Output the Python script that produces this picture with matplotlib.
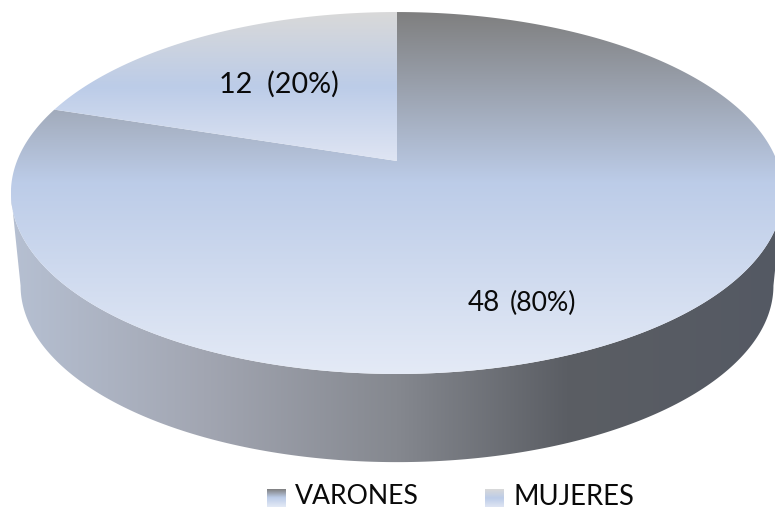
import numpy as np
import matplotlib
matplotlib.use("Agg")
import matplotlib.pyplot as plt
from matplotlib.colors import LinearSegmentedColormap as LSC
from matplotlib.patches import Polygon

# ---- data ----
categories = ["VARONES", "MUJERES"]
values = [48, 12]
percents = ["(80%)", "(20%)"]

# ---- styles ----
top_stops = [
    [(0, "#7f7f7f"), (0.47, "#bccce8"), (1, "#e4eaf6")],
    [(0, "#d9d9d9"), (0.5, "#bccce8"), (1, "#dfe5f3")],
]
side_stops = [(0, "#b6c0d2"), (0.25, "#a2a6b2"), (0.5, "#85888f"),
              (0.72, "#5b5e64"), (1, "#545963")]
legend_sizes = [19.2, 19.8]
plt.rcParams["font.family"] = ["Lato", "DejaVu Sans"]

fig = plt.figure(figsize=(7.75, 5.09), dpi=100, facecolor="white")
ax = fig.add_axes([0, 0, 1, 1])
W, H = 775, 509

# projective view of a tilted disc
K = 0.1768
CX, CY, RX, RY = 397, 161, 380, 175.3
BOT_S, BOT_CY = 0.975, 254.5


def project(u, v, s=1.0, cy=CY):
    w = 1 - K * v
    return np.column_stack([CX + s * RX * u / w, cy + s * RY * v / w])


def grad(stops, extent, path=None, horizontal=False):
    cmap = LSC.from_list("g", stops, N=512)
    g = np.linspace(0, 1, 512)
    arr = g[None, :] if horizontal else g[:, None]
    im = ax.imshow(arr, cmap=cmap, vmin=0, vmax=1, extent=extent,
                   aspect="auto", interpolation="bilinear", origin="upper")
    if path is not None:
        patch = Polygon(path, closed=True, transform=ax.transData,
                        fc="none", ec="none")
        ax.add_patch(patch)
        im.set_clip_path(patch)
    return im


# side wall
t0 = np.arcsin(K)
t = np.linspace(t0, np.pi - t0, 300)
bottom = project(np.cos(t), np.sin(t), BOT_S, BOT_CY)
top = project(np.cos(t[::-1]), np.sin(t[::-1]))
side = np.vstack([bottom, top])
grad(side_stops, (11, 783, 470, 190), side, horizontal=True)

# top face wedges
fr = np.cumsum([0] + values) / sum(values)
for i in range(len(values)):
    th = np.linspace(fr[i], fr[i + 1], 400) * 2 * np.pi
    rim = project(np.sin(th), -np.cos(th))
    poly = np.vstack([[CX, CY], rim])
    y0, y1 = poly[:, 1].min(), poly[:, 1].max()
    x0, x1 = poly[:, 0].min(), poly[:, 0].max()
    grad(top_stops[i], (x0, x1, y1, y0), poly)

# labels
ink = "#0a0a0a"
ax.text(219, 84, f"{values[1]}  {percents[1]}", fontsize=20.7, color=ink,
        ha="left", va="center")
ax.text(468, 303, f"{values[0]}", fontsize=20, color=ink,
        ha="left", va="center")
ax.text(510, 303, percents[0], fontsize=19.2, color=ink,
        ha="left", va="center")

# legend
sw = [(267, 286), (485, 504)]
tx = [295, 513]
for i, c in enumerate(categories):
    grad(top_stops[i], (sw[i][0], sw[i][1], 507, 489))
    ax.text(tx[i], 497, c, fontsize=legend_sizes[i], color=ink, ha="left", va="center")

ax.set_xlim(0, W)
ax.set_ylim(H, 0)
ax.axis("off")
fig.savefig("out.png", dpi=100, facecolor="white")
